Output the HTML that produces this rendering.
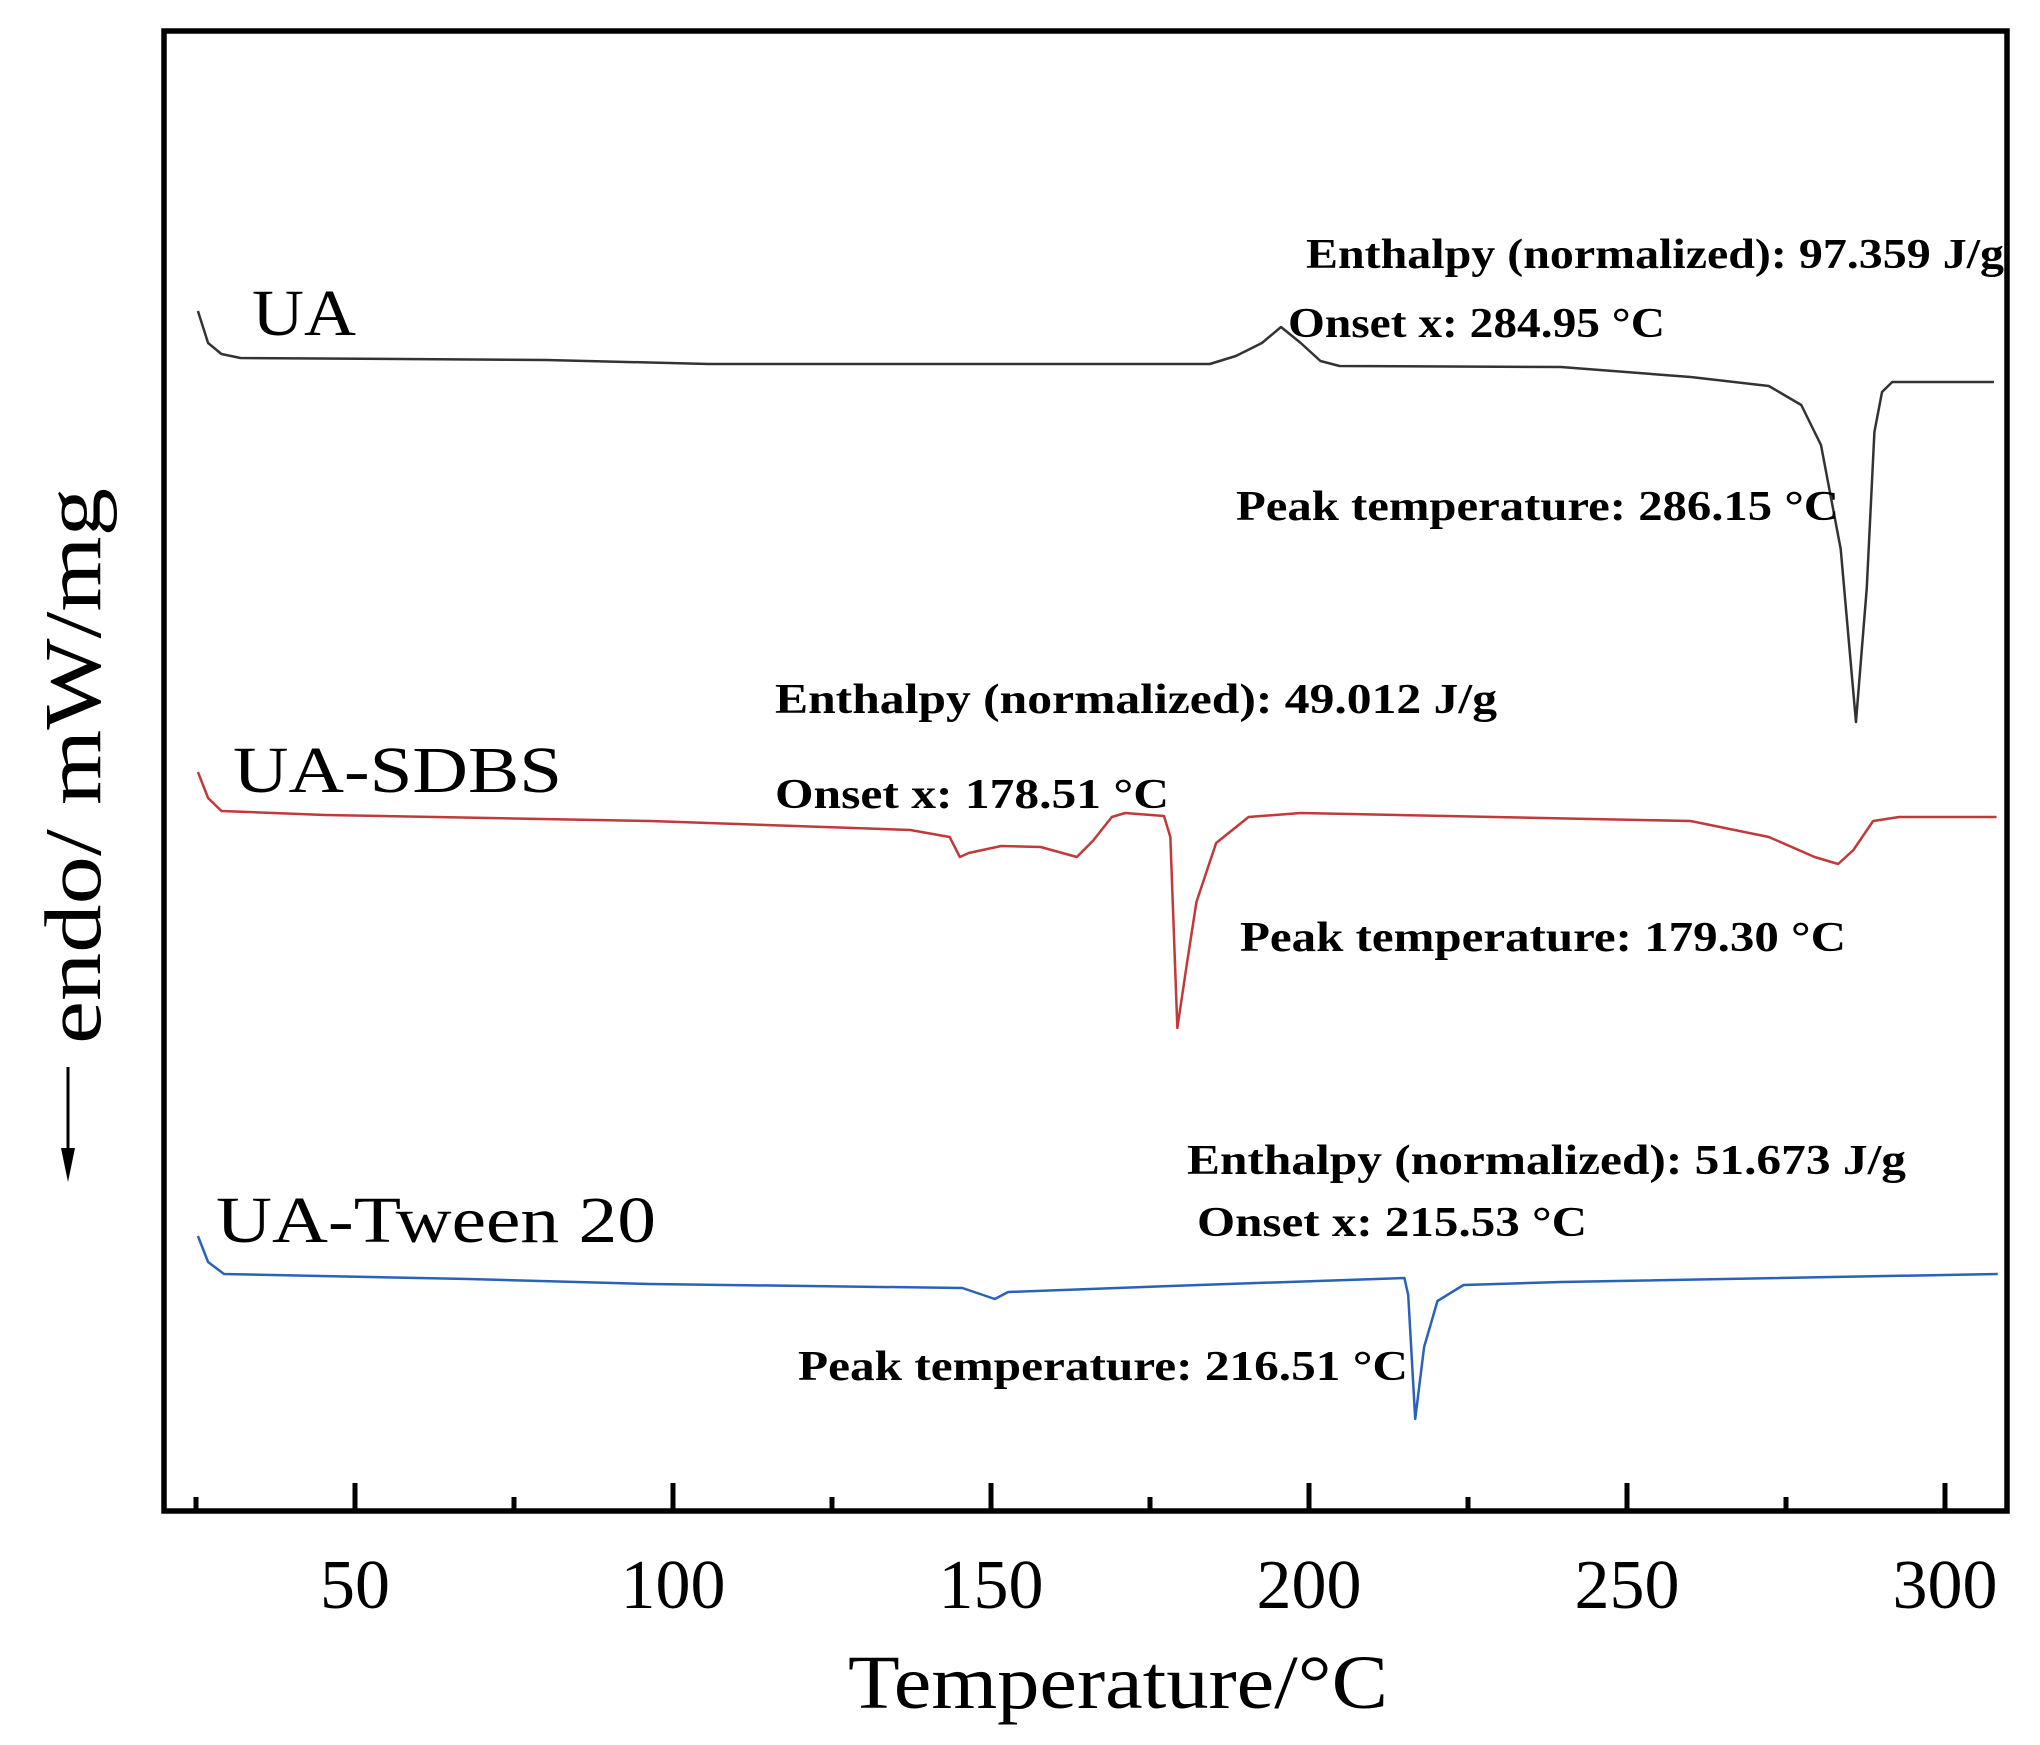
<!DOCTYPE html>
<html><head><meta charset="utf-8"><style>
html,body{margin:0;padding:0;background:#fff;}
svg{display:block;}
text{font-family:"Liberation Serif",serif;}
.ann{font-weight:bold;font-size:42px;}
.lab{font-size:66px;}
</style></head><body>
<svg id="chart" width="2040" height="1745" viewBox="0 0 2040 1745">
<rect x="164" y="31" width="1843" height="1480" fill="none" stroke="#000" stroke-width="5.5"/>
<g id="ticks"></g>
<g id="series"></g>
<text x="1118" y="1708" text-anchor="middle" font-size="76" textLength="540" lengthAdjust="spacingAndGlyphs">Temperature/°C</text>
<text transform="translate(100,766) rotate(-90)" text-anchor="middle" font-size="80" textLength="556" lengthAdjust="spacingAndGlyphs">endo/ mW/mg</text>
<line x1="68" y1="1067" x2="68" y2="1170" stroke="#000" stroke-width="3"/>
<polygon points="61,1148 75,1148 68,1182" fill="#000"/>
<text class="lab" x="252" y="335" textLength="104" lengthAdjust="spacingAndGlyphs">UA</text>
<text class="lab" x="233" y="792" textLength="329" lengthAdjust="spacingAndGlyphs">UA-SDBS</text>
<text class="lab" x="216" y="1242" textLength="440" lengthAdjust="spacingAndGlyphs">UA-Tween 20</text>
<text class="ann" x="1306" y="268" textLength="698" lengthAdjust="spacingAndGlyphs">Enthalpy (normalized): 97.359 J/g</text>
<text class="ann" x="1288" y="337" textLength="377" lengthAdjust="spacingAndGlyphs">Onset x: 284.95 °C</text>
<text class="ann" x="1236" y="520" textLength="603" lengthAdjust="spacingAndGlyphs">Peak temperature: 286.15 °C</text>
<text class="ann" x="775" y="713" textLength="722" lengthAdjust="spacingAndGlyphs">Enthalpy (normalized): 49.012 J/g</text>
<text class="ann" x="775" y="808" textLength="394" lengthAdjust="spacingAndGlyphs">Onset x: 178.51 °C</text>
<text class="ann" x="1240" y="951" textLength="606" lengthAdjust="spacingAndGlyphs">Peak temperature: 179.30 °C</text>
<text class="ann" x="1187" y="1174" textLength="719" lengthAdjust="spacingAndGlyphs">Enthalpy (normalized): 51.673 J/g</text>
<text class="ann" x="1197" y="1236" textLength="390" lengthAdjust="spacingAndGlyphs">Onset x: 215.53 °C</text>
<text class="ann" x="798" y="1380" textLength="610" lengthAdjust="spacingAndGlyphs">Peak temperature: 216.51 °C</text>
</svg>
<script>
const majorTicks = [50, 100, 150, 200, 250, 300];
const minorTicks = [25, 75, 125, 175, 225, 275];
const uaT = [25.3,26.9,29.0,32.0,80.1,105.6,184.4,188.5,192.6,195.6,198.7,201.8,204.8,239.6,260.0,272.3,277.4,280.5,283.6,286.0,287.7,288.9,290.1,291.7,307.7];
const uaV = [120.1,116.9,115.8,115.4,115.2,114.8,114.8,115.6,116.9,118.5,116.9,115.1,114.6,114.5,113.5,112.6,110.7,106.7,96.3,79.0,92.4,108.0,112.0,113.0,113.0];
const sdbsT = [25.3,26.9,29.0,45.3,96.4,137.3,143.5,145.1,146.5,151.6,157.8,163.5,166.0,169.0,171.1,177.2,178.2,179.3,180.7,182.3,185.4,190.5,198.7,260.0,272.3,279.5,283.2,285.6,288.7,292.8,308.1];
const sdbsV = [74.0,71.4,70.1,69.7,69.1,68.2,67.5,65.5,65.9,66.6,66.5,65.5,67.1,69.5,69.9,69.6,67.5,48.4,54.4,61.0,66.9,69.5,69.9,69.1,67.5,65.5,64.8,66.2,69.1,69.5,69.5];
const tweenT = [25.3,26.9,29.4,67.8,96.4,145.5,150.6,152.7,178.2,215.0,215.6,216.7,218.1,220.2,224.3,239.6,308.3];
const tweenV = [27.6,25.0,23.8,23.3,22.8,22.4,21.3,22.0,22.6,23.4,21.7,9.3,16.5,21.1,22.7,23.0,23.8];
const x = t => 355 + (t - 50) * 6.36;
const y = v => 1512 - v * 10;
const NS = 'http://www.w3.org/2000/svg';
const tg = document.getElementById('ticks');
majorTicks.forEach(t => {
  const l = document.createElementNS(NS, 'line');
  l.setAttribute('x1', x(t)); l.setAttribute('x2', x(t));
  l.setAttribute('y1', 1511); l.setAttribute('y2', 1483);
  l.setAttribute('stroke', '#000'); l.setAttribute('stroke-width', 5);
  
  
  tg.appendChild(l);
  const tx = document.createElementNS(NS, 'text');
  tx.setAttribute('x', x(t)); tx.setAttribute('y', 1608);
  tx.setAttribute('text-anchor', 'middle'); tx.setAttribute('font-size', '70');
  tx.textContent = t;
  
  
  tg.appendChild(tx);
});
minorTicks.forEach(t => {
  const l = document.createElementNS(NS, 'line');
  l.setAttribute('x1', x(t)); l.setAttribute('x2', x(t));
  l.setAttribute('y1', 1511); l.setAttribute('y2', 1497);
  l.setAttribute('stroke', '#000'); l.setAttribute('stroke-width', 5);
  
  
  tg.appendChild(l);
});
const sg = document.getElementById('series');
function draw(ts, vs, color, name) {
  const p = document.createElementNS(NS, 'polyline');
  p.setAttribute('points', ts.map((t, i) => x(t) + ',' + y(vs[i])).join(' '));
  p.setAttribute('fill', 'none'); p.setAttribute('stroke', color);
  p.setAttribute('stroke-width', 2.5); p.setAttribute('stroke-linejoin', 'round');
  
  
  sg.appendChild(p);
}
draw(uaT, uaV, '#333', 'ua-curve');
draw(sdbsT, sdbsV, '#c0393b', 'ua-sdbs-curve');
draw(tweenT, tweenV, '#2a62b8', 'ua-tween20-curve');
</script>
</body></html>
